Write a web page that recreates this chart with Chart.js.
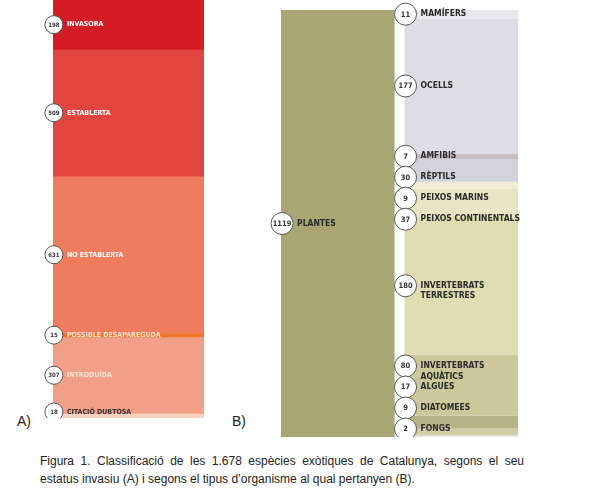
<!DOCTYPE html>
<html><head><meta charset="utf-8">
<script src="https://cdn.jsdelivr.net/npm/chart.js@4"></script>
<style>
body{margin:0;width:600px;height:490px;background:#fff;position:relative;font-family:'Liberation Sans',Arial,sans-serif;}
.c{position:absolute;}
.lab{position:absolute;font-size:14px;color:#222;}
#cap{position:absolute;left:40px;top:452px;width:484px;font-size:12px;line-height:18px;color:#222;text-align:justify;text-align-last:left;}
</style></head><body>
<div class="c" style="left:44px;top:0;width:160px;height:418px"><canvas id="a"></canvas></div>
<div class="c" style="left:262px;top:0;width:261px;height:437px"><canvas id="b"></canvas></div>
<div class="lab" style="left:17px;top:413px">A)</div>
<div class="lab" style="left:232px;top:413px">B)</div>
<div id="cap">Figura 1. Classificació de les 1.678 espècies exòtiques de Catalunya, segons el seu estatus invasiu (A) i segons el tipus d’organisme al qual pertanyen (B).</div>
<script>
const statusLabels=['INVASORA','ESTABLERTA','NO ESTABLERTA','POSSIBLE DESAPAREGUDA','INTRODUÏDA','CITACIÓ DUBTOSA'];
const statusValues=[198,509,631,15,307,18];
const statusColors=['#d41c24','#e0463f','#ee7c5d','#ee7428','#f19f86','#f8d3c0'];
const statusText=['#fff','#fff','#fff','#fde3d0','#fde3d0','#333'];
const plantLabel='PLANTES';
const plantValue=1119;
const animalLabels=['MAMÍFERS','OCELLS','AMFIBIS','RÈPTILS','PEIXOS MARINS','PEIXOS CONTINENTALS','INVERTEBRATS\nTERRESTRES','INVERTEBRATS\nAQUÀTICS','ALGUES','DIATOMEES','FONGS'];
const animalValues=[11,177,7,30,9,37,180,80,17,9,2];
const animalColors=['#e9e9ed','#dddde3','#c9c0c4','#d1d3dd','#efecd3','#e7e5c3','#dfddb1','#cdc89c','#b6b386','#d0cda8','#e7e7e7'];
const FONT="'Liberation Sans Narrow','DejaVu Sans Condensed',sans-serif";

function labelPlugin(r,fs,textCol){return{id:'lbl',afterDatasetsDraw(ch){
  const ctx=ch.ctx;const items=[];
  ch.data.datasets.forEach((ds,i)=>{const m=ch.getDatasetMeta(i);m.data.forEach((el,j)=>{
    if(ds.data[j]==null)return;
    items.push({x:el.x-el.width/2,y:(el.y+el.base)/2,v:ds.data[j],t:ds.label,c:textCol?textCol[i]:'#2a2a2a'});});});
  // spacing resolve
  const gap=r*2-1;
  for(let k=1;k<items.length;k++){ if(items[k].x===items[k-1].x && items[k].y-items[k-1].y<gap) items[k].y=items[k-1].y+gap;}
  const bottom=ch.chartArea.bottom-r+3;
  for(let k=items.length-1;k>=0;k--){const lim=k===items.length-1?bottom:items[k+1].y-gap; if(items[k].y>lim && (k===items.length-1||items[k+1].x===items[k].x)) items[k].y=lim;}
  items.forEach(it=>{
    const cx=it.x+r*0.1;
    ctx.beginPath();ctx.arc(cx,it.y,r,0,Math.PI*2);ctx.fillStyle='#fff';ctx.fill();ctx.lineWidth=1;ctx.strokeStyle='#555';ctx.stroke();
    ctx.fillStyle='#333';ctx.font=`bold ${fs-1}px ${FONT}`;ctx.textAlign='center';ctx.textBaseline='middle';ctx.fillText(String(it.v),cx,it.y+0.5);
    ctx.fillStyle=it.c;ctx.font=`bold ${fs}px ${FONT}`;ctx.textAlign='left';
    const lines=it.t.split('\n');lines.forEach((l,n)=>ctx.fillText(l,cx+r+4,it.y+n*(fs+2)));
  });}};}

new Chart(document.getElementById('a'),{type:'bar',
  data:{labels:['A'],datasets:statusLabels.map((l,i)=>({label:l,data:[statusValues[i]],backgroundColor:statusColors[i],borderWidth:0}))},
  options:{responsive:true,maintainAspectRatio:false,animation:false,layout:{padding:{left:9,top:0,bottom:0}},
    datasets:{bar:{barPercentage:1,categoryPercentage:1}},
    plugins:{legend:{display:false},tooltip:{enabled:false}},
    scales:{x:{display:false,stacked:true},y:{display:false,stacked:true,reverse:true,min:0,max:statusValues.reduce((a,b)=>a+b,0)}}},
  plugins:[labelPlugin(9,7,statusText)]});

const animalSum=animalValues.reduce((a,b)=>a+b,0);
const dsB=[{label:plantLabel,data:[plantValue,null],backgroundColor:'#a9a673',borderWidth:0,yAxisID:'y2',stack:'p'}]
  .concat(animalLabels.map((l,i)=>({label:l,data:[null,animalValues[i]],backgroundColor:animalColors[i],borderWidth:0,yAxisID:'y',stack:'a'})));
new Chart(document.getElementById('b'),{type:'bar',
  data:{labels:['P','A'],datasets:dsB},
  options:{responsive:true,maintainAspectRatio:false,animation:false,layout:{padding:{left:14,top:10,bottom:0}},
    datasets:{bar:{barPercentage:0.92,categoryPercentage:1,grouped:false}},
    plugins:{legend:{display:false},tooltip:{enabled:false}},
    scales:{x:{display:false,stacked:true},
      y:{display:false,stacked:true,reverse:true,min:0,max:animalSum},
      y2:{display:false,stacked:true,reverse:true,min:0,max:plantValue}}},
  plugins:[labelPlugin(11,8.5,null)]});
</script></body></html>
